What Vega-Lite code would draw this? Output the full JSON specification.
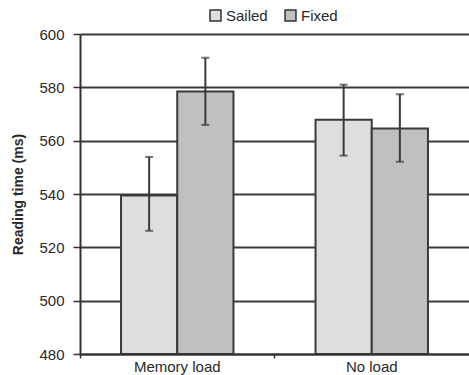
{
  "$schema": "https://vega.github.io/schema/vega-lite/v6.json",
  "width": 389,
  "height": 320,
  "autosize": {"type": "none"},
  "padding": {"left": 80, "top": 34, "right": 0, "bottom": 21},
  "background": "#ffffff",
  "config": {
    "view": {"stroke": null},
    "font": "Liberation Sans",
    "axis": {"labelFont": "Liberation Sans", "titleFont": "Liberation Sans", "labelColor": "#2a2a2a", "titleColor": "#2a2a2a"}
  },
  "data": {
    "values": [
      {"cond": "Memory load", "type": "Sailed", "mean": 539.4, "lo": 526.2, "hi": 553.9},
      {"cond": "Memory load", "type": "Fixed", "mean": 578.4, "lo": 565.9, "hi": 591.1},
      {"cond": "No load", "type": "Sailed", "mean": 567.8, "lo": 554.4, "hi": 581.0},
      {"cond": "No load", "type": "Fixed", "mean": 564.6, "lo": 552.1, "hi": 577.4}
    ]
  },
  "encoding": {
    "x": {
      "field": "cond", "type": "nominal", "sort": ["Memory load", "No load"],
      "scale": {"paddingInner": 0, "paddingOuter": 0},
      "axis": {"title": null, "labelAngle": 0, "labelFontSize": 15, "labelPadding": 1, "ticks": true, "bandPosition": 0, "tickSize": 4, "tickColor": "#333", "tickWidth": 1.5, "domainColor": "#333", "domainWidth": 2, "zindex": 1}
    },
    "xOffset": {
      "field": "type", "type": "nominal", "sort": ["Sailed", "Fixed"],
      "scale": {"paddingInner": 0, "paddingOuter": 0.73}
    }
  },
  "layer": [
    {
      "mark": {"type": "bar", "stroke": "#3a3a3a", "strokeWidth": 2},
      "encoding": {
        "y": {
          "field": "mean", "type": "quantitative",
          "scale": {"domain": [480, 600], "zero": false, "nice": false},
          "axis": {
            "title": "Reading time (ms)", "titleFontSize": 14, "titleFontWeight": "bold", "titlePadding": 13,
            "values": [480, 500, 520, 540, 560, 580, 600],
            "labelFontSize": 15, "labelPadding": 9, "tickSize": 7, "tickColor": "#333", "tickWidth": 1.5,
            "grid": true, "gridColor": "#3a3a3a", "gridWidth": 2,
            "domainColor": "#333", "domainWidth": 2
          }
        },
        "y2": {"datum": 480},
        "color": {
          "field": "type", "type": "nominal", "sort": ["Sailed", "Fixed"],
          "scale": {"domain": ["Sailed", "Fixed"], "range": ["#dedede", "#c0c0c0"]},
          "legend": {
            "title": null, "orient": "none", "direction": "horizontal", "legendX": 128, "legendY": -26,
            "symbolType": "square", "symbolSize": 120, "symbolStrokeColor": "#333", "symbolStrokeWidth": 1.5,
            "labelFontSize": 15, "labelColor": "#2a2a2a", "labelOffset": 3, "columnPadding": 14
          }
        }
      }
    },
    {
      "mark": {"type": "rule", "color": "#3a3a3a", "strokeWidth": 2},
      "encoding": {
        "y": {"field": "lo", "type": "quantitative"},
        "y2": {"field": "hi"}
      }
    },
    {
      "mark": {"type": "tick", "color": "#3a3a3a", "thickness": 2, "size": 8, "orient": "horizontal"},
      "encoding": {"y": {"field": "lo", "type": "quantitative"}}
    },
    {
      "mark": {"type": "tick", "color": "#3a3a3a", "thickness": 2, "size": 8, "orient": "horizontal"},
      "encoding": {"y": {"field": "hi", "type": "quantitative"}}
    }
  ]
}
